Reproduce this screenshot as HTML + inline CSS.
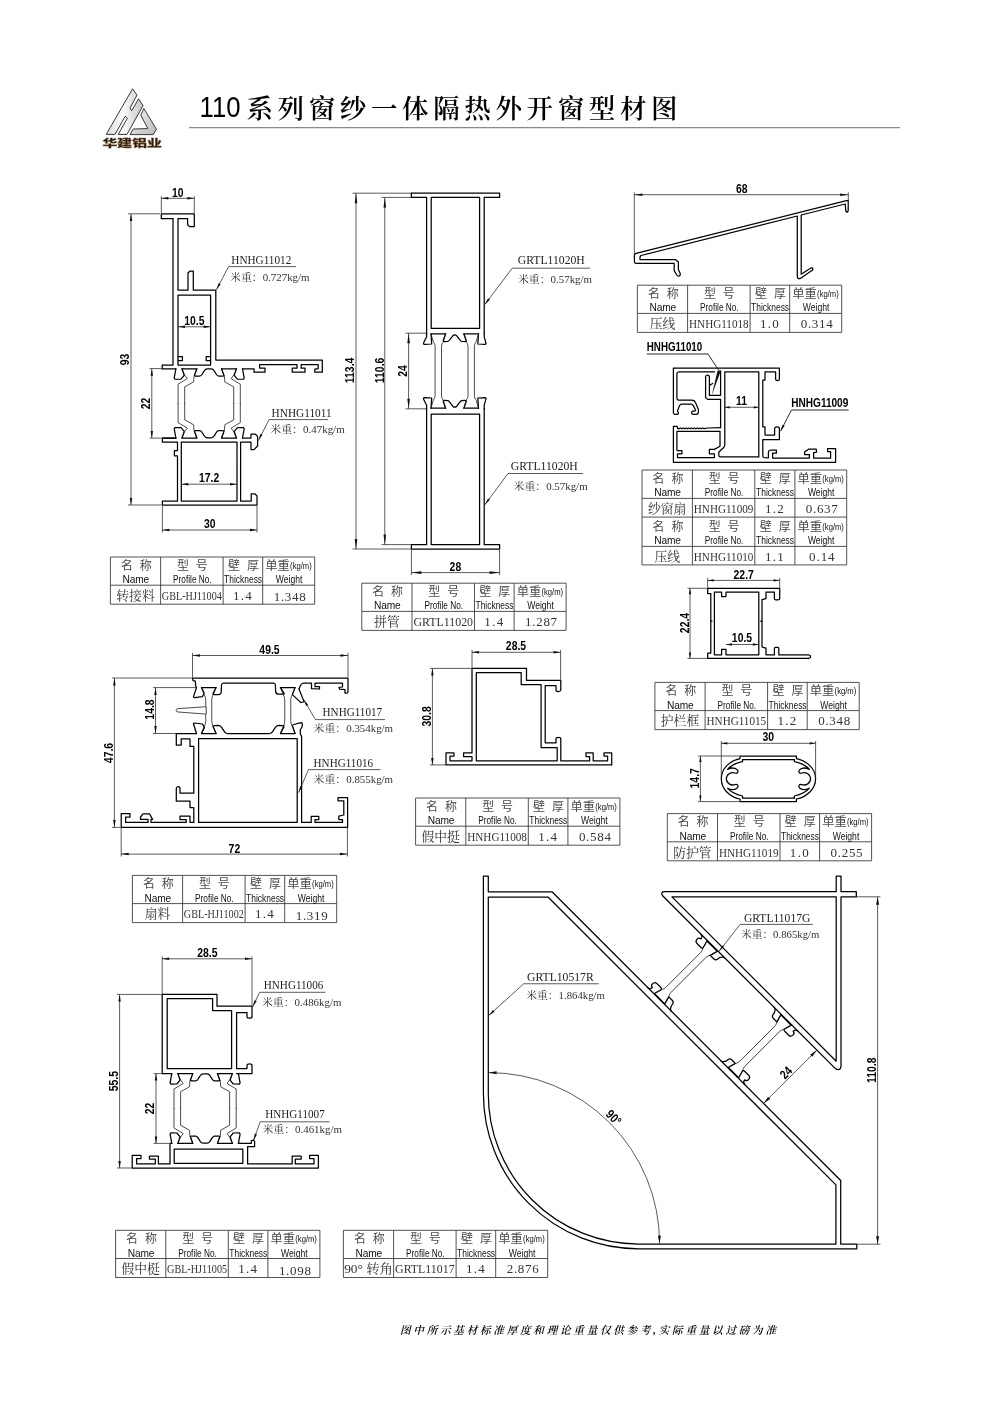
<!DOCTYPE html>
<html lang="zh"><head><meta charset="utf-8"><title>110系列窗纱一体隔热外开窗型材图</title>
<style>
html,body{margin:0;padding:0;background:#fff}
svg{display:block;will-change:transform}
.p{fill:none;stroke:#000;stroke-width:1.25;stroke-linejoin:round;stroke-linecap:round}
.pf{fill:#fff;stroke:#000;stroke-width:1.15;stroke-linejoin:round}
.m{fill:none;stroke:#111;stroke-width:.75;stroke-linejoin:round;stroke-linecap:round}
.t{fill:none;stroke:#262626;stroke-width:.75}
.a{fill:#111;stroke:none}
.tb{fill:none;stroke:#333;stroke-width:.85}
text{font-family:"Liberation Sans","Noto Sans CJK SC",sans-serif;fill:#000}
.dt{font-weight:bold;font-size:12.7px}
.lb{font-family:"Liberation Serif","Noto Serif CJK SC",serif;font-size:13.2px;fill:#222}
.wt{font-family:"Liberation Serif","Noto Serif CJK SC",serif;font-size:10px;fill:#333}
.hc{font-family:"Liberation Sans","Noto Sans CJK SC",sans-serif;font-size:12px;fill:#4a4a4a;font-weight:400}
.he{font-size:10.2px;fill:#111}
.dc{font-family:"Liberation Serif","Noto Serif CJK SC",serif;font-size:12.8px;fill:#333}
.dn{font-family:"Liberation Serif","Noto Serif CJK SC",serif;font-size:13px;fill:#333}
.bl{font-weight:bold;font-size:12.2px}
</style></head><body>
<svg width="1000" height="1415" viewBox="0 0 1000 1415">
<g id="hdr">
<defs><linearGradient id="lg" x1="0" y1="0" x2="1" y2="0"><stop offset="0" stop-color="#d8d8d8"/><stop offset=".45" stop-color="#fdfdfd"/><stop offset="1" stop-color="#c4c4c4"/></linearGradient><linearGradient id="lg2" x1="0" y1="0" x2="1" y2="1"><stop offset="0" stop-color="#fafafa"/><stop offset="1" stop-color="#b8b8b8"/></linearGradient></defs>
<path d="M132.6 88.8L137 95.2 130 108 131.6 110.8 138.6 98.8 143 105.6 127 134.4H118.2L127.4 118.2 125.2 116.2 115 134.4H106.2Z" fill="url(#lg)" stroke="#222" stroke-width=".9" stroke-linejoin="round"/>
<path d="M143.8 108.4L156.4 129.2 153.2 134.6H130L133.2 129 147.8 128.6 140.8 115.2Z" fill="url(#lg2)" stroke="#222" stroke-width=".9" stroke-linejoin="round"/>
<text x="132.2" y="147" text-anchor="middle" textLength="59.4" lengthAdjust="spacingAndGlyphs" style="font-family:'Liberation Sans','Noto Sans CJK SC',sans-serif;font-weight:900;font-size:9.8px;fill:#2b190a;stroke:#8a6a3a;stroke-width:.3">华建铝业</text>
<path d="M189 127.6H900" stroke="#8a8a8a" stroke-width="1.3" fill="none"/>
<text x="199.5" y="117" textLength="41" lengthAdjust="spacingAndGlyphs" style="font-size:30px">110</text>
<text x="246.5" y="118.4" textLength="431" lengthAdjust="spacing" style="font-family:'Liberation Serif','Noto Serif CJK SC',serif;font-weight:600;font-size:26.5px">系列窗纱一体隔热外开窗型材图</text>
</g>
<text x="400" y="1333.8" textLength="376" lengthAdjust="spacing" style="font-family:'Liberation Serif','Noto Serif CJK SC',serif;font-weight:600;font-size:10.6px;font-style:italic">图中所示基材标准厚度和理论重量仅供参考,实际重量以过磅为准</text>
<g id="tables">
<path class="tb" d="M110.4 557H314.7V604.2H110.4ZM110.4 585.2H314.7M160.6 557V604.2M223.1 557V604.2M262.7 557V604.2"/>
<text class="hc" x="136.3" y="569.6" text-anchor="middle" textLength="30.8" lengthAdjust="spacing">名 称</text>
<text class="hc" x="192.35" y="569.6" text-anchor="middle" textLength="30.8" lengthAdjust="spacing">型 号</text>
<text class="hc" x="243.4" y="569.6" text-anchor="middle" textLength="31" lengthAdjust="spacing">壁 厚</text>
<text class="hc" x="265.3" y="569.6" textLength="24.6" lengthAdjust="spacingAndGlyphs">单重</text>
<text class="he" x="290.1" y="568.6" textLength="21.6" lengthAdjust="spacingAndGlyphs" style="font-size:8.6px">(kg/m)</text>
<text class="he" x="135.9" y="583.2" text-anchor="middle" textLength="26.6" lengthAdjust="spacing">Name</text>
<text class="he" x="192.35" y="583.2" text-anchor="middle" textLength="38.6" lengthAdjust="spacingAndGlyphs">Profile No.</text>
<text class="he" x="243.1" y="583.2" text-anchor="middle" textLength="38" lengthAdjust="spacingAndGlyphs">Thickness</text>
<text class="he" x="289.1" y="583.2" text-anchor="middle" textLength="26.6" lengthAdjust="spacingAndGlyphs">Weight</text>
<text class="dc" x="135.5" y="600" text-anchor="middle">转接料</text>
<text class="dn" x="191.85" y="600" text-anchor="middle" textLength="60" lengthAdjust="spacingAndGlyphs">GBL-HJ11004</text>
<text class="dn" x="242.4" y="600" text-anchor="middle" textLength="18.9" lengthAdjust="spacing">1.4</text>
<text class="dn" x="289.7" y="601.2" text-anchor="middle" textLength="32" lengthAdjust="spacing">1.348</text>
<path class="tb" d="M361.8 583.2H566.1V630.4H361.8ZM361.8 611.4H566.1M412 583.2V630.4M474.5 583.2V630.4M514.1 583.2V630.4"/>
<text class="hc" x="387.7" y="595.8" text-anchor="middle" textLength="30.8" lengthAdjust="spacing">名 称</text>
<text class="hc" x="443.75" y="595.8" text-anchor="middle" textLength="30.8" lengthAdjust="spacing">型 号</text>
<text class="hc" x="494.8" y="595.8" text-anchor="middle" textLength="31" lengthAdjust="spacing">壁 厚</text>
<text class="hc" x="516.7" y="595.8" textLength="24.6" lengthAdjust="spacingAndGlyphs">单重</text>
<text class="he" x="541.5" y="594.8" textLength="21.6" lengthAdjust="spacingAndGlyphs" style="font-size:8.6px">(kg/m)</text>
<text class="he" x="387.3" y="609.4" text-anchor="middle" textLength="26.6" lengthAdjust="spacing">Name</text>
<text class="he" x="443.75" y="609.4" text-anchor="middle" textLength="38.6" lengthAdjust="spacingAndGlyphs">Profile No.</text>
<text class="he" x="494.5" y="609.4" text-anchor="middle" textLength="38" lengthAdjust="spacingAndGlyphs">Thickness</text>
<text class="he" x="540.5" y="609.4" text-anchor="middle" textLength="26.6" lengthAdjust="spacingAndGlyphs">Weight</text>
<text class="dc" x="386.9" y="626.2" text-anchor="middle">拼管</text>
<text class="dn" x="443.25" y="626.2" text-anchor="middle" textLength="59.6" lengthAdjust="spacingAndGlyphs">GRTL11020</text>
<text class="dn" x="493.8" y="626.2" text-anchor="middle" textLength="18.9" lengthAdjust="spacing">1.4</text>
<text class="dn" x="541.1" y="626.2" text-anchor="middle" textLength="32" lengthAdjust="spacing">1.287</text>
<path class="tb" d="M637.4 285.2H841.7V332.4H637.4ZM637.4 313.4H841.7M687.6 285.2V332.4M750.1 285.2V332.4M789.7 285.2V332.4"/>
<text class="hc" x="663.3" y="297.8" text-anchor="middle" textLength="30.8" lengthAdjust="spacing">名 称</text>
<text class="hc" x="719.35" y="297.8" text-anchor="middle" textLength="30.8" lengthAdjust="spacing">型 号</text>
<text class="hc" x="770.4" y="297.8" text-anchor="middle" textLength="31" lengthAdjust="spacing">壁 厚</text>
<text class="hc" x="792.3" y="297.8" textLength="24.6" lengthAdjust="spacingAndGlyphs">单重</text>
<text class="he" x="817.1" y="296.8" textLength="21.6" lengthAdjust="spacingAndGlyphs" style="font-size:8.6px">(kg/m)</text>
<text class="he" x="662.9" y="311.4" text-anchor="middle" textLength="26.6" lengthAdjust="spacing">Name</text>
<text class="he" x="719.35" y="311.4" text-anchor="middle" textLength="38.6" lengthAdjust="spacingAndGlyphs">Profile No.</text>
<text class="he" x="770.1" y="311.4" text-anchor="middle" textLength="38" lengthAdjust="spacingAndGlyphs">Thickness</text>
<text class="he" x="816.1" y="311.4" text-anchor="middle" textLength="26.6" lengthAdjust="spacingAndGlyphs">Weight</text>
<text class="dc" x="662.5" y="328.2" text-anchor="middle">压线</text>
<text class="dn" x="718.85" y="328.2" text-anchor="middle" textLength="59.6" lengthAdjust="spacingAndGlyphs">HNHG11018</text>
<text class="dn" x="769.4" y="328.2" text-anchor="middle" textLength="18.9" lengthAdjust="spacing">1.0</text>
<text class="dn" x="816.7" y="328.2" text-anchor="middle" textLength="32" lengthAdjust="spacing">0.314</text>
<path class="tb" d="M642 470H846.7V564.9H642ZM642 498.4H846.7M642 517.1H846.7M642 546.4H846.7M692.4 470V564.9M754.8 470V564.9M794.9 470V564.9"/>
<text class="hc" x="668" y="482.6" text-anchor="middle" textLength="30.8" lengthAdjust="spacing">名 称</text>
<text class="hc" x="724.1" y="482.6" text-anchor="middle" textLength="30.8" lengthAdjust="spacing">型 号</text>
<text class="hc" x="775.35" y="482.6" text-anchor="middle" textLength="31" lengthAdjust="spacing">壁 厚</text>
<text class="hc" x="797.5" y="482.6" textLength="24.6" lengthAdjust="spacingAndGlyphs">单重</text>
<text class="he" x="822.3" y="481.6" textLength="21.6" lengthAdjust="spacingAndGlyphs" style="font-size:8.6px">(kg/m)</text>
<text class="he" x="667.6" y="496.2" text-anchor="middle" textLength="26.6" lengthAdjust="spacing">Name</text>
<text class="he" x="724.1" y="496.2" text-anchor="middle" textLength="38.6" lengthAdjust="spacingAndGlyphs">Profile No.</text>
<text class="he" x="775.05" y="496.2" text-anchor="middle" textLength="38" lengthAdjust="spacingAndGlyphs">Thickness</text>
<text class="he" x="821.2" y="496.2" text-anchor="middle" textLength="26.6" lengthAdjust="spacingAndGlyphs">Weight</text>
<text class="dc" x="667.2" y="512.9" text-anchor="middle">纱窗扇</text>
<text class="dn" x="723.6" y="512.9" text-anchor="middle" textLength="59.6" lengthAdjust="spacingAndGlyphs">HNHG11009</text>
<text class="dn" x="774.35" y="512.9" text-anchor="middle" textLength="18.9" lengthAdjust="spacing">1.2</text>
<text class="dn" x="821.8" y="512.9" text-anchor="middle" textLength="32" lengthAdjust="spacing">0.637</text>
<text class="hc" x="668" y="530.7" text-anchor="middle" textLength="30.8" lengthAdjust="spacing">名 称</text>
<text class="hc" x="724.1" y="530.7" text-anchor="middle" textLength="30.8" lengthAdjust="spacing">型 号</text>
<text class="hc" x="775.35" y="530.7" text-anchor="middle" textLength="31" lengthAdjust="spacing">壁 厚</text>
<text class="hc" x="797.5" y="530.7" textLength="24.6" lengthAdjust="spacingAndGlyphs">单重</text>
<text class="he" x="822.3" y="529.7" textLength="21.6" lengthAdjust="spacingAndGlyphs" style="font-size:8.6px">(kg/m)</text>
<text class="he" x="667.6" y="544.3" text-anchor="middle" textLength="26.6" lengthAdjust="spacing">Name</text>
<text class="he" x="724.1" y="544.3" text-anchor="middle" textLength="38.6" lengthAdjust="spacingAndGlyphs">Profile No.</text>
<text class="he" x="775.05" y="544.3" text-anchor="middle" textLength="38" lengthAdjust="spacingAndGlyphs">Thickness</text>
<text class="he" x="821.2" y="544.3" text-anchor="middle" textLength="26.6" lengthAdjust="spacingAndGlyphs">Weight</text>
<text class="dc" x="667.2" y="560.7" text-anchor="middle">压线</text>
<text class="dn" x="723.6" y="560.7" text-anchor="middle" textLength="59.6" lengthAdjust="spacingAndGlyphs">HNHG11010</text>
<text class="dn" x="774.35" y="560.7" text-anchor="middle" textLength="18.9" lengthAdjust="spacing">1.1</text>
<text class="dn" x="821.8" y="560.7" text-anchor="middle" textLength="25.6" lengthAdjust="spacing">0.14</text>
<path class="tb" d="M654.9 682.4H859.2V729.6H654.9ZM654.9 710.6H859.2M705.1 682.4V729.6M767.6 682.4V729.6M807.2 682.4V729.6"/>
<text class="hc" x="680.8" y="695" text-anchor="middle" textLength="30.8" lengthAdjust="spacing">名 称</text>
<text class="hc" x="736.85" y="695" text-anchor="middle" textLength="30.8" lengthAdjust="spacing">型 号</text>
<text class="hc" x="787.9" y="695" text-anchor="middle" textLength="31" lengthAdjust="spacing">壁 厚</text>
<text class="hc" x="809.8" y="695" textLength="24.6" lengthAdjust="spacingAndGlyphs">单重</text>
<text class="he" x="834.6" y="694" textLength="21.6" lengthAdjust="spacingAndGlyphs" style="font-size:8.6px">(kg/m)</text>
<text class="he" x="680.4" y="708.6" text-anchor="middle" textLength="26.6" lengthAdjust="spacing">Name</text>
<text class="he" x="736.85" y="708.6" text-anchor="middle" textLength="38.6" lengthAdjust="spacingAndGlyphs">Profile No.</text>
<text class="he" x="787.6" y="708.6" text-anchor="middle" textLength="38" lengthAdjust="spacingAndGlyphs">Thickness</text>
<text class="he" x="833.6" y="708.6" text-anchor="middle" textLength="26.6" lengthAdjust="spacingAndGlyphs">Weight</text>
<text class="dc" x="680" y="725.4" text-anchor="middle">护栏框</text>
<text class="dn" x="736.35" y="725.4" text-anchor="middle" textLength="59.6" lengthAdjust="spacingAndGlyphs">HNHG11015</text>
<text class="dn" x="786.9" y="725.4" text-anchor="middle" textLength="18.9" lengthAdjust="spacing">1.2</text>
<text class="dn" x="834.2" y="725.4" text-anchor="middle" textLength="32" lengthAdjust="spacing">0.348</text>
<path class="tb" d="M667.3 813.6H871.6V860.8H667.3ZM667.3 841.8H871.6M717.5 813.6V860.8M780 813.6V860.8M819.6 813.6V860.8"/>
<text class="hc" x="693.2" y="826.2" text-anchor="middle" textLength="30.8" lengthAdjust="spacing">名 称</text>
<text class="hc" x="749.25" y="826.2" text-anchor="middle" textLength="30.8" lengthAdjust="spacing">型 号</text>
<text class="hc" x="800.3" y="826.2" text-anchor="middle" textLength="31" lengthAdjust="spacing">壁 厚</text>
<text class="hc" x="822.2" y="826.2" textLength="24.6" lengthAdjust="spacingAndGlyphs">单重</text>
<text class="he" x="847" y="825.2" textLength="21.6" lengthAdjust="spacingAndGlyphs" style="font-size:8.6px">(kg/m)</text>
<text class="he" x="692.8" y="839.8" text-anchor="middle" textLength="26.6" lengthAdjust="spacing">Name</text>
<text class="he" x="749.25" y="839.8" text-anchor="middle" textLength="38.6" lengthAdjust="spacingAndGlyphs">Profile No.</text>
<text class="he" x="800" y="839.8" text-anchor="middle" textLength="38" lengthAdjust="spacingAndGlyphs">Thickness</text>
<text class="he" x="846" y="839.8" text-anchor="middle" textLength="26.6" lengthAdjust="spacingAndGlyphs">Weight</text>
<text class="dc" x="692.4" y="856.6" text-anchor="middle">防护管</text>
<text class="dn" x="748.75" y="856.6" text-anchor="middle" textLength="59.6" lengthAdjust="spacingAndGlyphs">HNHG11019</text>
<text class="dn" x="799.3" y="856.6" text-anchor="middle" textLength="18.9" lengthAdjust="spacing">1.0</text>
<text class="dn" x="846.6" y="856.6" text-anchor="middle" textLength="32" lengthAdjust="spacing">0.255</text>
<path class="tb" d="M132.4 875.4H336.7V922.6H132.4ZM132.4 903.6H336.7M182.6 875.4V922.6M245.1 875.4V922.6M284.7 875.4V922.6"/>
<text class="hc" x="158.3" y="888" text-anchor="middle" textLength="30.8" lengthAdjust="spacing">名 称</text>
<text class="hc" x="214.35" y="888" text-anchor="middle" textLength="30.8" lengthAdjust="spacing">型 号</text>
<text class="hc" x="265.4" y="888" text-anchor="middle" textLength="31" lengthAdjust="spacing">壁 厚</text>
<text class="hc" x="287.3" y="888" textLength="24.6" lengthAdjust="spacingAndGlyphs">单重</text>
<text class="he" x="312.1" y="887" textLength="21.6" lengthAdjust="spacingAndGlyphs" style="font-size:8.6px">(kg/m)</text>
<text class="he" x="157.9" y="901.6" text-anchor="middle" textLength="26.6" lengthAdjust="spacing">Name</text>
<text class="he" x="214.35" y="901.6" text-anchor="middle" textLength="38.6" lengthAdjust="spacingAndGlyphs">Profile No.</text>
<text class="he" x="265.1" y="901.6" text-anchor="middle" textLength="38" lengthAdjust="spacingAndGlyphs">Thickness</text>
<text class="he" x="311.1" y="901.6" text-anchor="middle" textLength="26.6" lengthAdjust="spacingAndGlyphs">Weight</text>
<text class="dc" x="157.5" y="918.4" text-anchor="middle">扇料</text>
<text class="dn" x="213.85" y="918.4" text-anchor="middle" textLength="60" lengthAdjust="spacingAndGlyphs">GBL-HJ11002</text>
<text class="dn" x="264.4" y="918.4" text-anchor="middle" textLength="18.9" lengthAdjust="spacing">1.4</text>
<text class="dn" x="311.7" y="919.6" text-anchor="middle" textLength="32" lengthAdjust="spacing">1.319</text>
<path class="tb" d="M415.6 798H619.9V845.2H415.6ZM415.6 826.2H619.9M465.8 798V845.2M528.3 798V845.2M567.9 798V845.2"/>
<text class="hc" x="441.5" y="810.6" text-anchor="middle" textLength="30.8" lengthAdjust="spacing">名 称</text>
<text class="hc" x="497.55" y="810.6" text-anchor="middle" textLength="30.8" lengthAdjust="spacing">型 号</text>
<text class="hc" x="548.6" y="810.6" text-anchor="middle" textLength="31" lengthAdjust="spacing">壁 厚</text>
<text class="hc" x="570.5" y="810.6" textLength="24.6" lengthAdjust="spacingAndGlyphs">单重</text>
<text class="he" x="595.3" y="809.6" textLength="21.6" lengthAdjust="spacingAndGlyphs" style="font-size:8.6px">(kg/m)</text>
<text class="he" x="441.1" y="824.2" text-anchor="middle" textLength="26.6" lengthAdjust="spacing">Name</text>
<text class="he" x="497.55" y="824.2" text-anchor="middle" textLength="38.6" lengthAdjust="spacingAndGlyphs">Profile No.</text>
<text class="he" x="548.3" y="824.2" text-anchor="middle" textLength="38" lengthAdjust="spacingAndGlyphs">Thickness</text>
<text class="he" x="594.3" y="824.2" text-anchor="middle" textLength="26.6" lengthAdjust="spacingAndGlyphs">Weight</text>
<text class="dc" x="440.7" y="841" text-anchor="middle">假中挺</text>
<text class="dn" x="497.05" y="841" text-anchor="middle" textLength="59.6" lengthAdjust="spacingAndGlyphs">HNHG11008</text>
<text class="dn" x="547.6" y="841" text-anchor="middle" textLength="18.9" lengthAdjust="spacing">1.4</text>
<text class="dn" x="594.9" y="841" text-anchor="middle" textLength="32" lengthAdjust="spacing">0.584</text>
<path class="tb" d="M115.6 1230.3H319.9V1277.5H115.6ZM115.6 1258.5H319.9M165.8 1230.3V1277.5M228.3 1230.3V1277.5M267.9 1230.3V1277.5"/>
<text class="hc" x="141.5" y="1242.9" text-anchor="middle" textLength="30.8" lengthAdjust="spacing">名 称</text>
<text class="hc" x="197.55" y="1242.9" text-anchor="middle" textLength="30.8" lengthAdjust="spacing">型 号</text>
<text class="hc" x="248.6" y="1242.9" text-anchor="middle" textLength="31" lengthAdjust="spacing">壁 厚</text>
<text class="hc" x="270.5" y="1242.9" textLength="24.6" lengthAdjust="spacingAndGlyphs">单重</text>
<text class="he" x="295.3" y="1241.9" textLength="21.6" lengthAdjust="spacingAndGlyphs" style="font-size:8.6px">(kg/m)</text>
<text class="he" x="141.1" y="1256.5" text-anchor="middle" textLength="26.6" lengthAdjust="spacing">Name</text>
<text class="he" x="197.55" y="1256.5" text-anchor="middle" textLength="38.6" lengthAdjust="spacingAndGlyphs">Profile No.</text>
<text class="he" x="248.3" y="1256.5" text-anchor="middle" textLength="38" lengthAdjust="spacingAndGlyphs">Thickness</text>
<text class="he" x="294.3" y="1256.5" text-anchor="middle" textLength="26.6" lengthAdjust="spacingAndGlyphs">Weight</text>
<text class="dc" x="140.7" y="1273.3" text-anchor="middle">假中梃</text>
<text class="dn" x="197.05" y="1273.3" text-anchor="middle" textLength="60" lengthAdjust="spacingAndGlyphs">GBL-HJ11005</text>
<text class="dn" x="247.6" y="1273.3" text-anchor="middle" textLength="18.9" lengthAdjust="spacing">1.4</text>
<text class="dn" x="294.9" y="1274.5" text-anchor="middle" textLength="32" lengthAdjust="spacing">1.098</text>
<path class="tb" d="M343.4 1230.3H547.7V1277.5H343.4ZM343.4 1258.5H547.7M393.6 1230.3V1277.5M456.1 1230.3V1277.5M495.7 1230.3V1277.5"/>
<text class="hc" x="369.3" y="1242.9" text-anchor="middle" textLength="30.8" lengthAdjust="spacing">名 称</text>
<text class="hc" x="425.35" y="1242.9" text-anchor="middle" textLength="30.8" lengthAdjust="spacing">型 号</text>
<text class="hc" x="476.4" y="1242.9" text-anchor="middle" textLength="31" lengthAdjust="spacing">壁 厚</text>
<text class="hc" x="498.3" y="1242.9" textLength="24.6" lengthAdjust="spacingAndGlyphs">单重</text>
<text class="he" x="523.1" y="1241.9" textLength="21.6" lengthAdjust="spacingAndGlyphs" style="font-size:8.6px">(kg/m)</text>
<text class="he" x="368.9" y="1256.5" text-anchor="middle" textLength="26.6" lengthAdjust="spacing">Name</text>
<text class="he" x="425.35" y="1256.5" text-anchor="middle" textLength="38.6" lengthAdjust="spacingAndGlyphs">Profile No.</text>
<text class="he" x="476.1" y="1256.5" text-anchor="middle" textLength="38" lengthAdjust="spacingAndGlyphs">Thickness</text>
<text class="he" x="522.1" y="1256.5" text-anchor="middle" textLength="26.6" lengthAdjust="spacingAndGlyphs">Weight</text>
<text class="dc" x="344.2" y="1273.3" textLength="48.8" lengthAdjust="spacingAndGlyphs">90° 转角</text>
<text class="dn" x="424.85" y="1273.3" text-anchor="middle" textLength="59.6" lengthAdjust="spacingAndGlyphs">GRTL11017</text>
<text class="dn" x="475.4" y="1273.3" text-anchor="middle" textLength="18.9" lengthAdjust="spacing">1.4</text>
<text class="dn" x="522.7" y="1273.3" text-anchor="middle" textLength="32" lengthAdjust="spacing">2.876</text>
</g>
<g id="d1">
<path class="p" d="M173 218.6 L161.3 218.6 L161.3 213.8 L194.3 213.8 L194.3 226.6 L189.6 226.6 L187.6 224.8 L187.6 218.6 L178 218.6 L178 290 L188 290 L188 273 L189.8 271.2 L193.3 271.2 L193.3 290 L215.8 290 L215.8 360 L322.3 360 L322.3 372.2 L314.8 372.2 L314.8 369.2 L318.2 368.6 L318.2 364.5 L301.2 364.5 L301.2 368.2 L305 368.2 L305 372.2 L292.2 372.2 L292.2 368.2 L297 368.2 L297 364.5 L259.6 364.5 L259.6 368 L265 368 L265 372.2 L254 372.2 L254 368.75 L242.5 368.75"/>
<path class="p" d="M173 218.6 L173 365 L162.2 365 L162.2 368.75"/>
<path class="p" d="M178 295 L210.6 295 L210.6 365 L178 365Z"/>
<path class="p" d="M178 356.6 L182.4 356.6 L182.4 360.5 L178 360.5"/>
<path class="p" d="M210.6 356.6 L206.2 356.6 L206.2 360.5 L210.6 360.5"/>
<path class="p" d="M175.9 438 L162.4 438 L162.4 442.2 L177.5 442.2 L177.5 450.6 L174.4 450.6 L174.4 455.8 L177.5 455.8 L177.5 501 L162.4 501 L162.4 505 L257 505 L257 496 L255 493.8 L251.2 493.8 L251.2 501 L240.6 501 L240.6 442.2 L251 442.2 L251 449.6 L254 449.6 L257.6 446 L257.6 436.4 L255.4 434.2 L251 434.2 L251 438 L242.5 438"/>
<path class="p" d="M181.3 442.2 L237 442.2 L237 501 L181.3 501Z"/>
<path class="p" d="M175.9 368.75 L174.2 377.95 L175 379.25 L181 379.15 L184.2 375.35 L182 368.75"/>
<path class="m" d="M182 369.25 L184.6 374.95 L187.3 378.65 L178.1 384.15 L178.1 403.38"/>
<path class="m" d="M196.8 369.25 L194 376.15 L193.6 381.95 L184.7 386.85 L184.7 403.38"/>
<path class="p" d="M242.5 368.75 L244.2 377.95 L243.4 379.25 L237.4 379.15 L234.2 375.35 L236.4 368.75"/>
<path class="m" d="M236.4 369.25 L233.8 374.95 L231.1 378.65 L240.3 384.15 L240.3 403.38"/>
<path class="m" d="M221.6 369.25 L224.4 376.15 L224.8 381.95 L233.7 386.85 L233.7 403.38"/>
<path class="p" d="M196.8 368.75L194.6 375.15Q194.3 376.05 195.4 376.05L199.6 376.05Q201 375.95 201.8 374.75L204.2 370.95Q205.4 368.95 207.2 368.95L211.2 368.95Q213 368.95 214.2 370.95L216.6 374.75Q217.4 375.95 218.8 376.05L223 376.05Q224.1 376.05 223.8 375.15L221.6 368.75"/>
<path class="p" d="M182 368.75L196.8 368.75"/>
<path class="p" d="M221.6 368.75L236.4 368.75"/>
<path class="p" d="M162.2 368.75L175.9 368.75"/>
<path class="p" d="M175.9 438 L174.2 428.8 L175 427.5 L181 427.6 L184.2 431.4 L182 438"/>
<path class="m" d="M182 437.5 L184.6 431.8 L187.3 428.1 L178.1 422.6 L178.1 403.38"/>
<path class="m" d="M196.8 437.5 L194 430.6 L193.6 424.8 L184.7 419.9 L184.7 403.38"/>
<path class="p" d="M242.5 438 L244.2 428.8 L243.4 427.5 L237.4 427.6 L234.2 431.4 L236.4 438"/>
<path class="m" d="M236.4 437.5 L233.8 431.8 L231.1 428.1 L240.3 422.6 L240.3 403.38"/>
<path class="m" d="M221.6 437.5 L224.4 430.6 L224.8 424.8 L233.7 419.9 L233.7 403.38"/>
<path class="p" d="M196.8 438L194.6 431.6Q194.3 430.7 195.4 430.7L199.6 430.7Q201 430.8 201.8 432L204.2 435.8Q205.4 437.8 207.2 437.8L211.2 437.8Q213 437.8 214.2 435.8L216.6 432Q217.4 430.8 218.8 430.7L223 430.7Q224.1 430.7 223.8 431.6L221.6 438"/>
<path class="p" d="M182 438L196.8 438"/>
<path class="p" d="M221.6 438L236.4 438"/>
<path class="p" d="M162.2 438L175.9 438"/>
<path class="t" d="M161.3 198.3L194.3 198.3"/>
<path class="a" d="M161.3 198.3L168.3 199.55L168.3 197.05Z"/>
<path class="a" d="M194.3 198.3L187.3 197.05L187.3 199.55Z"/>
<text class="dt" text-anchor="middle" transform="translate(177.8 196.6) scale(0.82 1)">10</text>
<path class="t" d="M161.3 196L161.3 213"/>
<path class="t" d="M194.3 196L194.3 213"/>
<path class="t" d="M131 214L131 505"/>
<path class="a" d="M131 214L129.75 221L132.25 221Z"/>
<path class="a" d="M131 505L132.25 498L129.75 498Z"/>
<text class="dt" text-anchor="middle" transform="translate(129.4 359.5) rotate(-90) scale(0.82 1)">93</text>
<path class="t" d="M128 213.8L160 213.8"/>
<path class="t" d="M128 505L161.5 505"/>
<path class="t" d="M178 326.8L210.6 326.8"/>
<path class="a" d="M178 326.8L185 328.05L185 325.55Z"/>
<path class="a" d="M210.6 326.8L203.6 325.55L203.6 328.05Z"/>
<text class="dt" text-anchor="middle" transform="translate(194.3 324.6) scale(0.82 1)">10.5</text>
<path class="t" d="M151.8 368.75L151.8 438"/>
<path class="a" d="M151.8 368.75L150.55 375.75L153.05 375.75Z"/>
<path class="a" d="M151.8 438L153.05 431L150.55 431Z"/>
<text class="dt" text-anchor="middle" transform="translate(150 403.5) rotate(-90) scale(0.82 1)">22</text>
<path class="t" d="M149.5 368.6L161.5 368.6"/>
<path class="t" d="M149.5 438.1L161.5 438.1"/>
<path class="t" d="M181.3 484.2L237 484.2"/>
<path class="a" d="M181.3 484.2L188.3 485.45L188.3 482.95Z"/>
<path class="a" d="M237 484.2L230 482.95L230 485.45Z"/>
<text class="dt" text-anchor="middle" transform="translate(209.15 481.8) scale(0.82 1)">17.2</text>
<path class="t" d="M162.4 530L257 530"/>
<path class="a" d="M162.4 530L169.4 531.25L169.4 528.75Z"/>
<path class="a" d="M257 530L250 528.75L250 531.25Z"/>
<text class="dt" text-anchor="middle" transform="translate(209.7 527.8) scale(0.82 1)">30</text>
<path class="t" d="M162.4 506L162.4 532.5"/>
<path class="t" d="M257 506L257 532.5"/>
<text class="lb" x="231.3" y="263.6" textLength="60" lengthAdjust="spacingAndGlyphs">HNHG11012</text>
<path class="t" d="M296 266.6L228.6 266.6L216.4 289.8"/>
<path class="a" d="M216.4 289.8L220.68 284.14L218.64 283.07Z"/>
<text class="wt" x="230" y="280.6" textLength="79.5" lengthAdjust="spacingAndGlyphs">米重：0.727kg/m</text>
<text class="lb" x="271.6" y="416.6" textLength="60" lengthAdjust="spacingAndGlyphs">HNHG11011</text>
<path class="t" d="M328 419.6L269 419.6L258.4 440.6"/>
<path class="a" d="M258.4 440.6L262.58 434.87L260.53 433.83Z"/>
<text class="wt" x="270.2" y="433.4" textLength="74.5" lengthAdjust="spacingAndGlyphs">米重：0.47kg/m</text>
</g>
<g id="d2">
<path class="p" d="M411.4 193.2 L499.6 193.2 L499.6 197.4 L484.2 197.4 L484.2 333.2"/>
<path class="p" d="M426.6 333.2 L426.6 197.4 L411.4 197.4 L411.4 193.2"/>
<path class="p" d="M431.2 197.4 L479.6 197.4 L479.6 328.4 L431.2 328.4Z"/>
<path class="p" d="M426.6 408.8 L426.6 544.6 L411.4 544.6 L411.4 549 L499.6 549 L499.6 544.6 L484.2 544.6 L484.2 408.8"/>
<path class="p" d="M431.2 414.2 L479.6 414.2 L479.6 544.6 L431.2 544.6Z"/>
<g transform="translate(0 333.2)">
<path class="p" d="M431 0.6L445.6 0.6"/>
<path class="p" d="M463.9 0.6L478.5 0.6"/>
<path class="p" d="M426.6 -0.2L426.6 3.6L423.6 9.6Q423.1 11 424.5 11.1L431.7 10.8L431 0.6"/>
<path class="p" d="M484.2 -0.2L484.2 3.6L485.9 9.6Q486.4 11 485 11.1L477.8 10.8L478.5 0.6"/>
<path class="p" d="M445.6 0.6L443.2 7.4Q443.1 8.4 444.3 8.4L447.7 8.2Q448.9 8 449.7 6.6L452.75 2.6Q454.75 0.6 456.75 2.6L459.8 6.6Q460.6 8 461.8 8.2L465.2 8.4Q466.4 8.4 466.3 7.4L463.9 0.6"/>
<path class="p" d="M431 75L445.6 75"/>
<path class="p" d="M463.9 75L478.5 75"/>
<path class="p" d="M426.6 75.8L426.6 72L423.6 66Q423.1 64.6 424.5 64.5L431.7 64.8L431 75"/>
<path class="p" d="M484.2 75.8L484.2 72L485.9 66Q486.4 64.6 485 64.5L477.8 64.8L478.5 75"/>
<path class="p" d="M445.6 75L443.2 68.2Q443.1 67.2 444.3 67.2L447.7 67.4Q448.9 67.6 449.7 69L452.75 73Q454.75 75 456.75 73L459.8 69Q460.6 67.6 461.8 67.4L465.2 67.2Q466.4 67.2 466.3 68.2L463.9 75"/>
<path class="m" d="M431 0.8L433.3 8.6Q435 10.5 435.1 13L435.1 62.6Q435 65.1 433.3 67L431 74.8"/>
<path class="m" d="M445.6 0.8L443.3 8.6Q441.6 10.5 441.5 13L441.5 62.6Q441.6 65.1 443.3 67L445.6 74.8"/>
<path class="m" d="M463.9 0.8L466.2 8.6Q467.9 10.5 468 13L468 62.6Q467.9 65.1 466.2 67L463.9 74.8"/>
<path class="m" d="M478.5 0.8L476.2 8.6Q474.5 10.5 474.4 13L474.4 62.6Q474.5 65.1 476.2 67L478.5 74.8"/>
</g>
<path class="t" d="M356 193.2L356 549"/>
<path class="a" d="M356 193.2L354.7 203.2L357.3 203.2Z"/>
<path class="a" d="M356 549L357.3 539L354.7 539Z"/>
<text class="dt" text-anchor="middle" transform="translate(354.4 370.4) rotate(-90) scale(0.82 1)">113.4</text>
<path class="t" d="M352.5 193.2L411 193.2"/>
<path class="t" d="M352.5 549L411 549"/>
<path class="t" d="M384.8 197.4L384.8 544.6"/>
<path class="a" d="M384.8 197.4L383.5 207.4L386.1 207.4Z"/>
<path class="a" d="M384.8 544.6L386.1 534.6L383.5 534.6Z"/>
<text class="dt" text-anchor="middle" transform="translate(383.6 370.4) rotate(-90) scale(0.82 1)">110.6</text>
<path class="t" d="M381.5 197.4L411 197.4"/>
<path class="t" d="M381.5 544.6L411 544.6"/>
<path class="t" d="M408.6 333.2L408.6 408.8"/>
<path class="a" d="M408.6 333.2L407.3 343.2L409.9 343.2Z"/>
<path class="a" d="M408.6 408.8L409.9 398.8L407.3 398.8Z"/>
<text class="dt" text-anchor="middle" transform="translate(407.4 371) rotate(-90) scale(0.82 1)">24</text>
<path class="t" d="M405.5 333.2L426 333.2"/>
<path class="t" d="M405.5 408.8L426 408.8"/>
<path class="t" d="M411.4 572.6L499.6 572.6"/>
<path class="a" d="M411.4 572.6L421.4 573.9L421.4 571.3Z"/>
<path class="a" d="M499.6 572.6L489.6 571.3L489.6 573.9Z"/>
<text class="dt" text-anchor="middle" transform="translate(455.4 570.6) scale(0.82 1)">28</text>
<path class="t" d="M411.4 550L411.4 575"/>
<path class="t" d="M499.6 550L499.6 575"/>
<text class="lb" x="517.8" y="264" textLength="67" lengthAdjust="spacingAndGlyphs">GRTL11020H</text>
<path class="t" d="M590 268.2L512.2 268.2L484.8 304.6"/>
<path class="a" d="M484.8 304.6L489.93 299.7L488.09 298.32Z"/>
<text class="wt" x="518" y="283" textLength="74" lengthAdjust="spacingAndGlyphs">米重：0.57kg/m</text>
<text class="lb" x="510.8" y="470.4" textLength="67" lengthAdjust="spacingAndGlyphs">GRTL11020H</text>
<path class="t" d="M583 473.5L508 473.5L484.8 504.8"/>
<path class="a" d="M484.8 504.8L489.89 499.86L488.04 498.49Z"/>
<text class="wt" x="513.6" y="490.3" textLength="74" lengthAdjust="spacingAndGlyphs">米重：0.57kg/m</text>
</g>
<g id="d3">
<path class="p" d="M636 253.4L846.4 200.6L848.2 200.6L848.2 211L847 212.2L845.8 211L845.2 204L801.2 215L801.2 274.2L810.8 268Q812.4 267.4 812.8 268.8Q813 270 811.8 270.6L800.4 278.4Q797.4 279.4 797.3 276.4L797.3 216L641 255.5L640 256.8L640 259.6L675.4 259.6L678.4 262L678.4 269.6L680.2 273.6Q680.6 275.6 679 276Q677.6 276.2 676.8 275L674.2 270.6L674.2 263.4L636 263.4Q634.4 263.2 634.4 261.6L634.4 255.2Q634.6 253.8 636 253.4Z"/>
<path class="t" d="M634.3 194.7L848.3 194.7"/>
<path class="a" d="M634.3 194.7L642.5 195.95L642.5 193.45Z"/>
<path class="a" d="M848.3 194.7L840.1 193.45L840.1 195.95Z"/>
<text class="dt" text-anchor="middle" transform="translate(741.7 192.8) scale(0.82 1)">68</text>
<path class="t" d="M634.3 192.4L634.3 254"/>
<path class="t" d="M848.3 192.4L848.3 200.2"/>
</g>
<g id="d4">
<path class="p" d="M673.4 412.8V368.1H779.4V379Q779.4 380.6 777.5 380.6Q775.6 380.6 775.6 379V371.9H765V380H762.8V426.9H765V435H774.6V428.4Q774.8 426.8 777 426.8Q779.4 426.8 779.4 428.6V439.6H762.8V456.2Q762.9 457.4 764.2 457.6L768.4 457.8V452Q768.6 450.2 770.4 450L776.4 450V453.2H772.6V458H809.4V454.6H804.6V452L808.8 449H816.2L816.6 452.2L813.6 452.6V458H830.6V451.6H827.6V448.5H835.6V462.3H673.4V426.4H677.2L677.6 428.4"/>
<path class="p" d="M677.6 428.4L679 428.8L680.4 428L681.8 428.8L683.2 428L684.6 428.8L686 428L687.4 428.8L688.8 428L690.2 428.8L691.6 428L693 428.8L694.4 428L695.8 428.8L697.2 428L698.6 428.8L700 428L701.4 428.8L702.8 428L704.2 428.6L707.6 428L720.6 427.6"/>
<path class="p" d="M673.4 412.8Q673.6 414.4 675.6 414.4H677.4Q678.6 414.2 678.4 412.8L677.6 411.4Q677.4 410.2 678.2 409.2L679.6 405.4Q680.2 404 682 404H690.8Q692.6 404 693.2 405.4L695.4 409.8Q695.6 411 694.4 411.2L692.6 411.2Q691.4 411.4 691.6 412.8Q691.8 414.4 693.6 414.4H696.4Q698.4 414.2 698.4 412.2V409.4L695.6 402.8Q694.8 400.4 692 400.2H678.6Q676.9 400 676.9 398.2V373.6Q677 372 678.6 371.9H714.6"/>
<path class="p" d="M720.6 370.8V395.4H709.4V385.6L712.6 383.4 M709.4 385.6V376.6Q709.2 375 707.4 375Q705.6 375.2 705.6 376.6V397.6L707.6 399.4H720.6V427.6"/>
<path class="p" d="M724.8 371.9H758.8V456.9H720.4Q718.8 456.8 718.8 455.2V452.2L721.2 449.8Q724.6 447.6 724.8 445Z"/>
<path class="p" d="M676.9 431.3H720V446.2L714.4 449.4H709.4V453.8H714.4V457.5H677.5V453.8H681.9V450.6H677.5Q676.9 450.4 676.9 449.4Z"/>
<path class="a" d="M711.7 395.4L717.6 370.6L720.6 371.6Z"/>
<path d="M646.8 354H708L717.6 368.6L719.6 371" fill="none" stroke="#111" stroke-width=".9"/>
<text class="bl" x="646.8" y="351.2" textLength="55.4" lengthAdjust="spacingAndGlyphs">HNHG11010</text>
<text class="bl" x="791.3" y="407.4" textLength="57" lengthAdjust="spacingAndGlyphs">HNHG11009</text>
<path d="M848.6 410H791.5L780.6 431" fill="none" stroke="#111" stroke-width=".9"/>
<path class="a" d="M780.4 431.4L784.7 425.75L782.57 424.64Z"/>
<path class="t" d="M724.8 407.3L758.8 407.3"/>
<path class="a" d="M724.8 407.3L729.8 408.4L729.8 406.2Z"/>
<path class="a" d="M758.8 407.3L753.8 406.2L753.8 408.4Z"/>
<text class="dt" text-anchor="middle" transform="translate(741.6 405.3) scale(0.82 1)">11</text>
</g>
<g id="d5">
<path class="p" d="M707.7 588.3H779.7V598.6Q779.6 599.8 778.2 599.8H775.6Q774.4 599.8 774.4 598.6V592H766V598.6L762 599.6V647L766 648.2V654.8H774.4V648.4Q774.4 647.4 775.4 647.4H777.8Q778.8 647.4 778.8 648.4V654.8H808.6Q810.6 655 810.6 656.6Q810.6 658.3 808.6 658.4H707.7V653H710.8V593.6H707.7Z"/>
<path class="p" d="M714.4 592H721.6V596.5H726V592H758.8V654.8H726V649.3H721.6V654.8H714.4Z"/>
<path class="p" d="M710.8 621L712 621"/>
<path class="p" d="M760.6 621L762 621"/>
<path class="t" d="M707.7 580.4L779.7 580.4"/>
<path class="a" d="M707.7 580.4L713.7 581.55L713.7 579.25Z"/>
<path class="a" d="M779.7 580.4L773.7 579.25L773.7 581.55Z"/>
<text class="dt" text-anchor="middle" transform="translate(743.7 578.6) scale(0.82 1)">22.7</text>
<path class="t" d="M707.7 578L707.7 588"/>
<path class="t" d="M779.7 578L779.7 588"/>
<path class="t" d="M690 588.3L690 658.4"/>
<path class="a" d="M690 588.3L688.85 594.3L691.15 594.3Z"/>
<path class="a" d="M690 658.4L691.15 652.4L688.85 652.4Z"/>
<text class="dt" text-anchor="middle" transform="translate(688.6 623) rotate(-90) scale(0.82 1)">22.4</text>
<path class="t" d="M687.5 588.3L707 588.3"/>
<path class="t" d="M687.5 658.4L707 658.4"/>
<path class="t" d="M726 644.5L758.8 644.5"/>
<path class="a" d="M726 644.5L732 645.65L732 643.35Z"/>
<path class="a" d="M758.8 644.5L752.8 643.35L752.8 645.65Z"/>
<text class="dt" text-anchor="middle" transform="translate(742 642.4) scale(0.82 1)">10.5</text>
</g>
<g id="d6">
<path class="p" d="M740 756H796.4V758.6C806 760.6 815.6 768 815.6 778.8C815.6 789.6 806 797 796.4 799V801.6H740V799C730.4 797 721.3 789.6 721.3 778.8C721.3 768 730.4 760.6 740 758.6Z"/>
<path class="p" d="M742.55 759.6L742.55 761.6C735.95 763 730.45 765.8 727.55 769.4Q732.95 766.6 736.95 769.4Q738.55 770.8 737.75 772.4Q736.75 773.8 734.95 773C730.95 771.6 726.35 774.4 726.35 778.8C726.35 783.2 730.95 786 734.95 784.6Q736.75 783.8 737.75 785.2Q738.55 786.8 736.95 788.2Q732.95 791 727.55 788.2C730.45 791.8 735.95 794.6 742.55 796L742.55 798L794.35 798"/>
<path class="p" d="M794.35 759.6L794.35 761.6C800.95 763 806.45 765.8 809.35 769.4Q803.95 766.6 799.95 769.4Q798.35 770.8 799.15 772.4Q800.15 773.8 801.95 773C805.95 771.6 810.55 774.4 810.55 778.8C810.55 783.2 805.95 786 801.95 784.6Q800.15 783.8 799.15 785.2Q798.35 786.8 799.95 788.2Q803.95 791 809.35 788.2C806.45 791.8 800.95 794.6 794.35 796L794.35 798"/>
<path class="p" d="M742.55 759.6L794.35 759.6"/>
<path class="t" d="M721.3 743.3L815.6 743.3"/>
<path class="a" d="M721.3 743.3L727.3 744.45L727.3 742.15Z"/>
<path class="a" d="M815.6 743.3L809.6 742.15L809.6 744.45Z"/>
<text class="dt" text-anchor="middle" transform="translate(768.3 741.2) scale(0.82 1)">30</text>
<path class="t" d="M721.3 741L721.3 778"/>
<path class="t" d="M815.6 741L815.6 778"/>
<path class="t" d="M700.4 756L700.4 801.6"/>
<path class="a" d="M700.4 756L699.25 762L701.55 762Z"/>
<path class="a" d="M700.4 801.6L701.55 795.6L699.25 795.6Z"/>
<text class="dt" text-anchor="middle" transform="translate(699 778.3) rotate(-90) scale(0.82 1)">14.7</text>
<path class="t" d="M698 756L739.5 756"/>
<path class="t" d="M698 801.6L739.5 801.6"/>
</g>
<g id="d8">
<path class="p" d="M196.5 687.5L195.6 686L195.4 681.2L193 680.6L192.5 678H348V692Q347.8 693 346.8 693H345V689.6L339.6 689.2L339 687.4L342.5 687V683H315V686.5H319.5V689L311.5 688.6V683H303.4Q301.4 683.4 300.4 685.6L299 689"/>
<path class="p" d="M295 687.5L292.4 694.6L300.6 702.4L303 702.2Q304 701.8 303.6 700.4L299 689"/>
<path class="p" d="M196.5 687.5L193.5 696.6Q193.4 697.6 194.6 697.6L202.5 696.6L204.2 693L201.5 687.5"/>
<path class="p" d="M216 687.5L213 693.6Q212.8 694.6 214 694.6L218.4 694.6Q221 694.4 221.2 692L221.5 685Q221.8 683.2 223.5 683H273.6Q275.2 683.2 275.4 685L275.6 691.4Q275.8 694 278.4 694.2L283.5 694.2Q284.4 694 284 693.2L280.5 687.5"/>
<path class="p" d="M201.5 687.5L216 687.5"/>
<path class="p" d="M280.5 687.5L295 687.5"/>
<path class="p" d="M196.5 733.5L193.5 724Q193.4 723 194.6 723L202.5 724L204.4 727.6L201.5 733.5"/>
<path class="p" d="M216 733.5L213 726.6Q212.8 725.6 214 725.6L218.6 725.4Q220.4 725.6 221.6 727.4L224.4 731.6Q225.4 733.4 227.4 733.5H269.6Q271.6 733.4 272.6 731.6L275.4 727.4Q276.6 725.6 278.4 725.4L283 725.6Q284.2 725.6 284 726.6L280.5 733.5"/>
<path class="p" d="M201.5 733.5L216 733.5"/>
<path class="p" d="M280.5 733.5L295 733.5"/>
<path class="p" d="M295 733.5L292.5 726Q292.4 724.8 293.6 724.5L301 722.6Q302.4 722.6 302.4 724L302 727L300.2 730L300.4 734L301.6 736.4V822.4H311.2V816.3H318.8V819.5H315V822.4H342.5V819.5H338.8V816.2L343.8 815V800.8H338V797.5H347.6V827.4H121.2V813.7H130V817H125.6V822.4H148V819.4H140.5V817L143 813.8H149.5L152.6 819.4H151V822.4H186.2V819.5H180V816.2H190V822.4H193.8V807.5H190V801.2H176.3V788.6Q176.4 786.6 178.2 786.6Q180 786.6 180 788.6V793H193.8V746.4H190V738.8H181.2V745H176.3V733.5H196.5"/>
<path class="p" d="M198.6 738.6 L297.2 738.6 L297.2 822.4 L198.6 822.4Z"/>
<path class="m" d="M201.5 688L204.15 694.4Q205.75 697 205.75 700V721Q205.75 724 204.15 726.6L201.5 733"/>
<path class="m" d="M216 688L213.35 694.4Q211.75 697 211.75 700V721Q211.75 724 213.35 726.6L216 733"/>
<path class="m" d="M280.5 688L283.15 694.4Q284.75 697 284.75 700V721Q284.75 724 283.15 726.6L280.5 733"/>
<path class="m" d="M295 688L292.35 694.4Q290.75 697 290.75 700V721Q290.75 724 292.35 726.6L295 733"/>
<path d="M206.2 707.4Q206 706.6 205 706.8L178 708.6Q176 709 176 710.4Q176 711.8 178 712L205 714Q206 714.2 206.2 713.2Z" fill="#fff" stroke="#111" stroke-width=".75"/>
<path class="t" d="M192.5 655.5L348 655.5"/>
<path class="a" d="M192.5 655.5L200 656.75L200 654.25Z"/>
<path class="a" d="M348 655.5L340.5 654.25L340.5 656.75Z"/>
<text class="dt" text-anchor="middle" transform="translate(269.5 653.6) scale(0.82 1)">49.5</text>
<path class="t" d="M192.5 653L192.5 677.5"/>
<path class="t" d="M348 653L348 677.5"/>
<path class="t" d="M114.4 678L114.4 827.4"/>
<path class="a" d="M114.4 678L113.15 685.5L115.65 685.5Z"/>
<path class="a" d="M114.4 827.4L115.65 819.9L113.15 819.9Z"/>
<text class="dt" text-anchor="middle" transform="translate(113 753) rotate(-90) scale(0.82 1)">47.6</text>
<path class="t" d="M112 678L192 678"/>
<path class="t" d="M112 827.4L120.5 827.4"/>
<path class="t" d="M155.5 687.6L155.5 733.5"/>
<path class="a" d="M155.5 687.6L154.25 695.1L156.75 695.1Z"/>
<path class="a" d="M155.5 733.5L156.75 726L154.25 726Z"/>
<text class="dt" text-anchor="middle" transform="translate(154 709.5) rotate(-90) scale(0.82 1)">14.8</text>
<path class="t" d="M153 687.6L196 687.6"/>
<path class="t" d="M153 733.5L176 733.5"/>
<path class="t" d="M121.2 854.1L347.4 854.1"/>
<path class="a" d="M121.2 854.1L128.7 855.35L128.7 852.85Z"/>
<path class="a" d="M347.4 854.1L339.9 852.85L339.9 855.35Z"/>
<text class="dt" text-anchor="middle" transform="translate(234.4 852.8) scale(0.82 1)">72</text>
<path class="t" d="M121.2 828L121.2 856.5"/>
<path class="t" d="M347.4 828L347.4 856.5"/>
<text class="lb" x="322.6" y="716.4" textLength="59.5" lengthAdjust="spacingAndGlyphs">HNHG11017</text>
<path class="t" d="M385 719.6L315.4 719.6L303.6 699.4"/>
<path class="a" d="M303.6 699.4L306.14 706.02L308.12 704.86Z"/>
<text class="wt" x="313.6" y="732" textLength="79.5" lengthAdjust="spacingAndGlyphs">米重：0.354kg/m</text>
<text class="lb" x="313.6" y="766.5" textLength="59.5" lengthAdjust="spacingAndGlyphs">HNHG11016</text>
<path class="t" d="M380.5 769.6L308.5 769.6L298.6 792.6"/>
<path class="a" d="M298.6 792.6L302.42 786.63L300.31 785.72Z"/>
<text class="wt" x="313.6" y="783" textLength="79.5" lengthAdjust="spacingAndGlyphs">米重：0.855kg/m</text>
</g>
<g id="d9">
<path class="p" d="M472 752.9V668.4H526.5V680.4H560.8V690Q560.6 691.6 558.4 691.6Q556 691.6 556 690V685.7H545.2V742.8H556V739Q556 737.4 558.4 737.4Q560.8 737.4 560.8 739V760.8H589.6V756.5H586V752.9H593.2V760.8H607.6V756H604V752.9H611.7V764.9H446V752.9H454V756H450V760.8H472V756.5H463.6V752.9Z"/>
<path class="p" d="M476.3 672.7H521.2V684.7H541.1V747.6H557.2V760.8H476.3Z"/>
<path class="t" d="M472 652.3L560.6 652.3"/>
<path class="a" d="M472 652.3L479 653.55L479 651.05Z"/>
<path class="a" d="M560.6 652.3L553.6 651.05L553.6 653.55Z"/>
<text class="dt" text-anchor="middle" transform="translate(516 650.4) scale(0.82 1)">28.5</text>
<path class="t" d="M472 650L472 668"/>
<path class="t" d="M560.6 650L560.6 680"/>
<path class="t" d="M432.4 668.4L432.4 764.9"/>
<path class="a" d="M432.4 668.4L431.15 675.4L433.65 675.4Z"/>
<path class="a" d="M432.4 764.9L433.65 757.9L431.15 757.9Z"/>
<text class="dt" text-anchor="middle" transform="translate(431 716.4) rotate(-90) scale(0.82 1)">30.8</text>
<path class="t" d="M430 668.4L471.5 668.4"/>
<path class="t" d="M430 764.9L445.5 764.9"/>
</g>
<g id="d10">
<path class="p" d="M236.6 1073.6H252V1065.2Q251.8 1063.8 249.6 1063.8Q247.2 1063.8 247 1065.2V1068.6H236.6V1012.6H247V1016.8Q247.2 1018.2 249.6 1018.2Q252 1018.2 252 1016.8V1006.2H217V994.4H162.2V1073.6H171.8"/>
<path class="p" d="M167.2 998.6H212.6V1010.6H231.6V1068.6H167.2Z"/>
<path class="p" d="M238.4 1143.4H251.2L251.4 1140.6L253.6 1140.2L254.6 1141.4V1146.6H247.6V1163.9H292.2V1156.2H301.2V1159.1H295.3V1163.9H314V1158.6H309.6V1155.4H318.4V1168H132.2V1155.4H141V1158.6H136.6V1163.9H155.3V1159.1H149.4V1156.2H158.4V1163.9H170V1143.4H171.8"/>
<path class="p" d="M174.2 1149H242.8V1163.3H174.2Z"/>
<path class="p" d="M171.8 1073.6 L170.1 1082.8 L170.9 1084.1 L176.9 1084 L180.1 1080.2 L177.9 1073.6"/>
<path class="m" d="M177.9 1074.1 L180.5 1079.8 L183.2 1083.5 L174 1089 L174 1108.5"/>
<path class="m" d="M192.7 1074.1 L189.9 1081 L189.5 1086.8 L180.6 1091.7 L180.6 1108.5"/>
<path class="p" d="M238.4 1073.6 L240.1 1082.8 L239.3 1084.1 L233.3 1084 L230.1 1080.2 L232.3 1073.6"/>
<path class="m" d="M232.3 1074.1 L229.7 1079.8 L227 1083.5 L236.2 1089 L236.2 1108.5"/>
<path class="m" d="M217.5 1074.1 L220.3 1081 L220.7 1086.8 L229.6 1091.7 L229.6 1108.5"/>
<path class="p" d="M192.7 1073.6L190.5 1080Q190.2 1080.9 191.3 1080.9L195.5 1080.9Q196.9 1080.8 197.7 1079.6L200.1 1075.8Q201.3 1073.8 203.1 1073.8L207.1 1073.8Q208.9 1073.8 210.1 1075.8L212.5 1079.6Q213.3 1080.8 214.7 1080.9L218.9 1080.9Q220 1080.9 219.7 1080L217.5 1073.6"/>
<path class="p" d="M177.9 1073.6L192.7 1073.6"/>
<path class="p" d="M217.5 1073.6L232.3 1073.6"/>
<path class="p" d="M171.8 1143.4 L170.1 1134.2 L170.9 1132.9 L176.9 1133 L180.1 1136.8 L177.9 1143.4"/>
<path class="m" d="M177.9 1142.9 L180.5 1137.2 L183.2 1133.5 L174 1128 L174 1108.5"/>
<path class="m" d="M192.7 1142.9 L189.9 1136 L189.5 1130.2 L180.6 1125.3 L180.6 1108.5"/>
<path class="p" d="M238.4 1143.4 L240.1 1134.2 L239.3 1132.9 L233.3 1133 L230.1 1136.8 L232.3 1143.4"/>
<path class="m" d="M232.3 1142.9 L229.7 1137.2 L227 1133.5 L236.2 1128 L236.2 1108.5"/>
<path class="m" d="M217.5 1142.9 L220.3 1136 L220.7 1130.2 L229.6 1125.3 L229.6 1108.5"/>
<path class="p" d="M192.7 1143.4L190.5 1137Q190.2 1136.1 191.3 1136.1L195.5 1136.1Q196.9 1136.2 197.7 1137.4L200.1 1141.2Q201.3 1143.2 203.1 1143.2L207.1 1143.2Q208.9 1143.2 210.1 1141.2L212.5 1137.4Q213.3 1136.2 214.7 1136.1L218.9 1136.1Q220 1136.1 219.7 1137L217.5 1143.4"/>
<path class="p" d="M177.9 1143.4L192.7 1143.4"/>
<path class="p" d="M217.5 1143.4L232.3 1143.4"/>
<path class="t" d="M162.2 958.8L252 958.8"/>
<path class="a" d="M162.2 958.8L169.2 960.05L169.2 957.55Z"/>
<path class="a" d="M252 958.8L245 957.55L245 960.05Z"/>
<text class="dt" text-anchor="middle" transform="translate(207.3 957) scale(0.82 1)">28.5</text>
<path class="t" d="M162.2 956.5L162.2 994"/>
<path class="t" d="M252 956.5L252 1006"/>
<path class="t" d="M119.6 994.4L119.6 1168"/>
<path class="a" d="M119.6 994.4L118.35 1001.4L120.85 1001.4Z"/>
<path class="a" d="M119.6 1168L120.85 1161L118.35 1161Z"/>
<text class="dt" text-anchor="middle" transform="translate(118.2 1081.2) rotate(-90) scale(0.82 1)">55.5</text>
<path class="t" d="M117 994.4L162 994.4"/>
<path class="t" d="M117 1168L132 1168"/>
<path class="t" d="M156 1073.6L156 1143.4"/>
<path class="a" d="M156 1073.6L154.75 1080.6L157.25 1080.6Z"/>
<path class="a" d="M156 1143.4L157.25 1136.4L154.75 1136.4Z"/>
<text class="dt" text-anchor="middle" transform="translate(154.4 1108.4) rotate(-90) scale(0.82 1)">22</text>
<path class="t" d="M153.6 1073.6L162 1073.6"/>
<path class="t" d="M153.6 1143.4L170 1143.4"/>
<text class="lb" x="263.8" y="989.4" textLength="59.5" lengthAdjust="spacingAndGlyphs">HNHG11006</text>
<path class="t" d="M325.4 992.3L259.6 992.3L252.6 1007"/>
<path class="a" d="M252.6 1007L256.65 1001.17L254.57 1000.19Z"/>
<text class="wt" x="261.9" y="1006.2" textLength="79.5" lengthAdjust="spacingAndGlyphs">米重：0.486kg/m</text>
<text class="lb" x="265.2" y="1118.2" textLength="59.5" lengthAdjust="spacingAndGlyphs">HNHG11007</text>
<path class="t" d="M329.6 1121.8L260.2 1121.8L253.5 1140.6"/>
<path class="a" d="M253.5 1140.6L256.93 1134.39L254.77 1133.62Z"/>
<text class="wt" x="262.4" y="1132.5" textLength="79.5" lengthAdjust="spacingAndGlyphs">米重：0.461kg/m</text>
</g>
<g id="d11">
<path class="p" d="M483.4 876.2H488.3V891.8H552L840.7 1180.5V1244H856.8V1248.8H638.4A155 155 0 0 1 483.4 1093.8Z"/>
<path class="p" d="M488.3 897H548L835.9 1184.9V1244H638.4A150.1 150.1 0 0 1 488.3 1093.8Z"/>
<path class="p" d="M836.2 891.7V876.1H841V891.7H856.3V896.9H841V1066Q841 1069.6 838 1069.6Q836.4 1069.4 835.4 1068.6L662.6 895.8Q660.4 891.7 664.4 891.7Z"/>
<path class="p" d="M672 896.9H836.2V1061.2Z"/>
<g transform="translate(663.4 896.6) rotate(45)">
<path class="p" d="M62.2 0.6L76.8 0.6"/>
<path class="p" d="M166.7 0.6L181.3 0.6"/>
<path class="p" d="M53 0Q56.3 0.2 56.5 3.4Q53.9 3.6 53.9 6Q53.9 9.4 56.9 9.4L62.9 9.4Q64.5 9.2 64.1 7.6L62.2 0.6"/>
<path class="p" d="M190.5 0Q187.2 0.2 187 3.4Q189.6 3.6 189.6 6Q189.6 9.4 186.6 9.4L180.6 9.4Q179 9.2 179.4 7.6L181.3 0.6"/>
<path class="p" d="M76.8 0.6L74.7 8.4L79.5 8.4Q82.1 8.4 82.5 6.2Q82.7 3 84.1 1.6Q85.1 0 87 0"/>
<path class="p" d="M166.7 0.6L168.8 8.4L164 8.4Q161.4 8.4 161 6.2Q160.8 3 159.4 1.6Q158.4 0 156.5 0"/>
<path class="p" d="M62.2 74.9L76.8 74.9"/>
<path class="p" d="M166.7 74.9L181.3 74.9"/>
<path class="p" d="M53 75.5Q56.3 75.3 56.5 72.1Q53.9 71.9 53.9 69.5Q53.9 66.1 56.9 66.1L62.9 66.1Q64.5 66.3 64.1 67.9L62.2 74.9"/>
<path class="p" d="M190.5 75.5Q187.2 75.3 187 72.1Q189.6 71.9 189.6 69.5Q189.6 66.1 186.6 66.1L180.6 66.1Q179 66.3 179.4 67.9L181.3 74.9"/>
<path class="p" d="M76.8 74.9L74.7 67.1L79.5 67.1Q82.1 67.1 82.5 69.3Q82.7 72.5 84.1 73.9Q85.1 75.5 87 75.5"/>
<path class="p" d="M166.7 74.9L168.8 67.1L164 67.1Q161.4 67.1 161 69.3Q160.8 72.5 159.4 73.9Q158.4 75.5 156.5 75.5"/>
<path class="m" d="M62.2 0.8L64.5 8.6Q65.8 10.5 65.9 13L65.9 62.5Q65.8 65 64.5 66.9L62.2 74.7"/>
<path class="m" d="M76.8 0.8L74.5 8.6Q73.2 10.5 73.1 13L73.1 62.5Q73.2 65 74.5 66.9L76.8 74.7"/>
<path class="m" d="M166.7 0.8L169 8.6Q170.3 10.5 170.4 13L170.4 62.5Q170.3 65 169 66.9L166.7 74.7"/>
<path class="m" d="M181.3 0.8L179 8.6Q177.7 10.5 177.6 13L177.6 62.5Q177.7 65 179 66.9L181.3 74.7"/>
</g>
<path class="t" d="M877.6 896.8L877.6 1244.2"/>
<path class="a" d="M877.6 896.8L876.1 904.8L879.1 904.8Z"/>
<path class="a" d="M877.6 1244.2L879.1 1236.2L876.1 1236.2Z"/>
<text class="dt" text-anchor="middle" transform="translate(876 1070.3) rotate(-90) scale(0.82 1)">110.8</text>
<path class="t" d="M857 896.8L880.4 896.8"/>
<path class="t" d="M857.4 1244.2L880.4 1244.2"/>
<path class="t" d="M763.5 1103.5L816.9 1050.1"/>
<path class="a" d="M763.5 1103.5L770.22 1098.9L768.1 1096.78Z"/>
<path class="a" d="M816.9 1050.1L810.18 1054.7L812.3 1056.82Z"/>
<text class="dt" text-anchor="middle" transform="translate(789.1 1075.7) rotate(-45) scale(0.82 1)">24</text>
<path class="t" d="M488.6 1072.6A171 171 0 0 1 659.6 1243.6"/>
<path class="a" d="M488.6 1072.6L496.56 1074.3L496.63 1071.3Z"/>
<path class="a" d="M659.6 1243.6L660.9 1235.57L657.9 1235.64Z"/>
<text class="dt" text-anchor="middle" transform="translate(610.6 1120.6) rotate(45) scale(0.82 1)">90°</text>
<text class="lb" x="527" y="981.25" textLength="66.75" lengthAdjust="spacingAndGlyphs">GRTL10517R</text>
<path class="t" d="M598.75 983.75L523.75 983.75L488.6 1015.6"/>
<path class="a" d="M488.6 1015.6L494.56 1011.75L493.02 1010.05Z"/>
<text class="wt" x="526.25" y="998.75" textLength="78.75" lengthAdjust="spacingAndGlyphs">米重：1.864kg/m</text>
<text class="lb" x="744" y="921.9" textLength="66.3" lengthAdjust="spacingAndGlyphs">GRTL11017G</text>
<path class="t" d="M812.9 924.4L740.1 924.4L718.8 951.6"/>
<path class="a" d="M718.8 951.6L724.02 946.8L722.21 945.38Z"/>
<text class="wt" x="740.9" y="938" textLength="78.5" lengthAdjust="spacingAndGlyphs">米重：0.865kg/m</text>
</g>
</svg>
</body></html>
